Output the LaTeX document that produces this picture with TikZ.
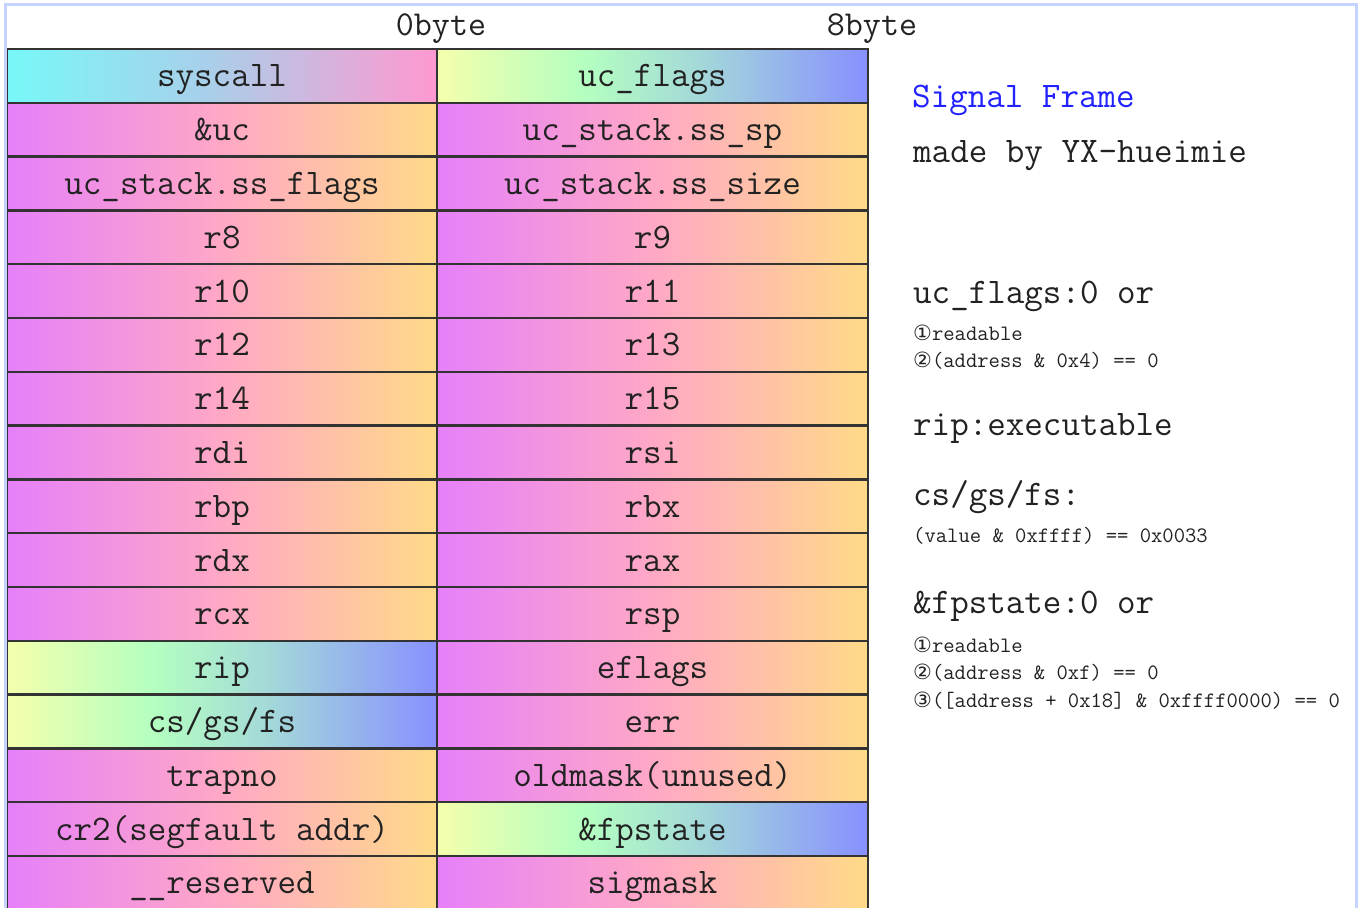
\documentclass[tikz,border=0pt]{standalone}
\usepackage{fontspec}
\newfontfamily\dejavu{DejaVu Sans}
\usetikzlibrary{shadings}
\definecolor{ppA}{HTML}{E680FA}
\definecolor{ppB}{HTML}{FFA8C6}
\definecolor{ppC}{HTML}{FFDA88}
\definecolor{cyA}{HTML}{78F8F8}
\definecolor{cyB}{HTML}{A8D0EA}
\definecolor{cyC}{HTML}{FF98D0}
\definecolor{gbA}{HTML}{F4FFAC}
\definecolor{gbB}{HTML}{B4FFC0}
\definecolor{gbC}{HTML}{A4DAD8}
\definecolor{gbD}{HTML}{8890FF}
\definecolor{framec}{HTML}{C4D4FF}
\definecolor{gridc}{HTML}{333333}
\definecolor{titleblue}{HTML}{2222FF}
\definecolor{txt}{HTML}{222222}
\pgfdeclarehorizontalshading{pp}{100bp}{color(0bp)=(ppA); color(25bp)=(ppA); color(50bp)=(ppB); color(75bp)=(ppC); color(100bp)=(ppC)}
\pgfdeclarehorizontalshading{cy}{100bp}{color(0bp)=(cyA); color(25bp)=(cyA); color(48bp)=(cyB); color(75bp)=(cyC); color(100bp)=(cyC)}
\pgfdeclarehorizontalshading{gb}{100bp}{color(0bp)=(gbA); color(25bp)=(gbA); color(42bp)=(gbB); color(55bp)=(gbC); color(75bp)=(gbD); color(100bp)=(gbD)}
\tikzset{
  cell/.style={draw=gridc, line width=2.5pt, inner sep=0pt, minimum height=53.8pt,
    text height=27pt, text depth=5pt, text=txt,
    font=\ttfamily\fontsize{36}{36}\selectfont},
  lcell/.style={cell, minimum width=430pt},
  rcell/.style={cell, minimum width=431pt},
  cpp/.style={shading=pp},
  ccy/.style={shading=cy},
  cgb/.style={shading=gb},
  big/.style={anchor=base west, inner sep=0pt, text=txt, font=\ttfamily\fontsize{36}{36}\selectfont},
  small/.style={anchor=base west, inner sep=0pt, text=txt, font=\ttfamily\fontsize{22}{22}\selectfont},
  head/.style={anchor=base, inner sep=0pt, text=txt, font=\ttfamily\fontsize{35}{35}\selectfont}
}
\newcommand{\circd}[1]{{\dejavu\fontsize{21}{21}\selectfont #1}}
\begin{document}
\begin{tikzpicture}[x=1pt, y=-1pt]
\useasboundingbox (0,0) rectangle (1361,908);
\fill[white] (0,0) rectangle (1361,908);
% header
\node[head] (h0) at (441,35) {0byte};
\node[head] (h8) at (872,35) {8byte};
% table
\node[lcell,ccy] (L1) at (222,75.9) {syscall};
\node[rcell,cgb] (R1) at (652.5,75.9) {uc\_flags};
\node[lcell,cpp] (L2) at (222,129.7) {\&uc};
\node[rcell,cpp] (R2) at (652.5,129.7) {uc\_stack.ss\_sp};
\node[lcell,cpp] (L3) at (222,183.5) {uc\_stack.ss\_flags};
\node[rcell,cpp] (R3) at (652.5,183.5) {uc\_stack.ss\_size};
\node[lcell,cpp] (L4) at (222,237.3) {r8};
\node[rcell,cpp] (R4) at (652.5,237.3) {r9};
\node[lcell,cpp] (L5) at (222,291.1) {r10};
\node[rcell,cpp] (R5) at (652.5,291.1) {r11};
\node[lcell,cpp] (L6) at (222,344.9) {r12};
\node[rcell,cpp] (R6) at (652.5,344.9) {r13};
\node[lcell,cpp] (L7) at (222,398.7) {r14};
\node[rcell,cpp] (R7) at (652.5,398.7) {r15};
\node[lcell,cpp] (L8) at (222,452.5) {rdi};
\node[rcell,cpp] (R8) at (652.5,452.5) {rsi};
\node[lcell,cpp] (L9) at (222,506.3) {rbp};
\node[rcell,cpp] (R9) at (652.5,506.3) {rbx};
\node[lcell,cpp] (L10) at (222,560.1) {rdx};
\node[rcell,cpp] (R10) at (652.5,560.1) {rax};
\node[lcell,cpp] (L11) at (222,613.9) {rcx};
\node[rcell,cpp] (R11) at (652.5,613.9) {rsp};
\node[lcell,cgb] (L12) at (222,667.7) {rip};
\node[rcell,cpp] (R12) at (652.5,667.7) {eflags};
\node[lcell,cgb] (L13) at (222,721.5) {cs/gs/fs};
\node[rcell,cpp] (R13) at (652.5,721.5) {err};
\node[lcell,cpp] (L14) at (222,775.3) {trapno};
\node[rcell,cpp] (R14) at (652.5,775.3) {oldmask(unused)};
\node[lcell,cpp] (L15) at (222,829.1) {cr2(segfault addr)};
\node[rcell,cgb] (R15) at (652.5,829.1) {\&fpstate};
\node[lcell,cpp] (L16) at (222,882.9) {\_\_reserved};
\node[rcell,cpp] (R16) at (652.5,882.9) {sigmask};
% notes
\node[big, text=titleblue] (t1) at (912,107) {Signal Frame};
\node[big] (t2) at (913,162) {made by YX-hueimie};
\node[big] (n1) at (913,303) {uc\_flags:0 or};
\node[small] (n1a) at (913,340) {\circd{①}readable};
\node[small] (n1b) at (913,367) {\circd{②}(address \& 0x4) == 0};
\node[big] (n2) at (913,435) {rip:executable};
\node[big] (n3) at (913,505) {cs/gs/fs:};
\node[small] (n3a) at (913,542) {(value \& 0xffff) == 0x0033};
\node[big] (n4) at (913,613) {\&fpstate:0 or};
\node[small] (n4a) at (913,652) {\circd{①}readable};
\node[small] (n4b) at (913,679) {\circd{②}(address \& 0xf) == 0};
\node[small] (n4c) at (913,707) {\circd{③}([address + 0x18] \& 0xffff0000) == 0};
% outer frame
\fill[white] (1358,0) rectangle (1361,908);
\draw[framec, line width=3pt] (5,915) -- (5,4.5) -- (1356.5,4.5) -- (1356.5,915);
\end{tikzpicture}
\end{document}
